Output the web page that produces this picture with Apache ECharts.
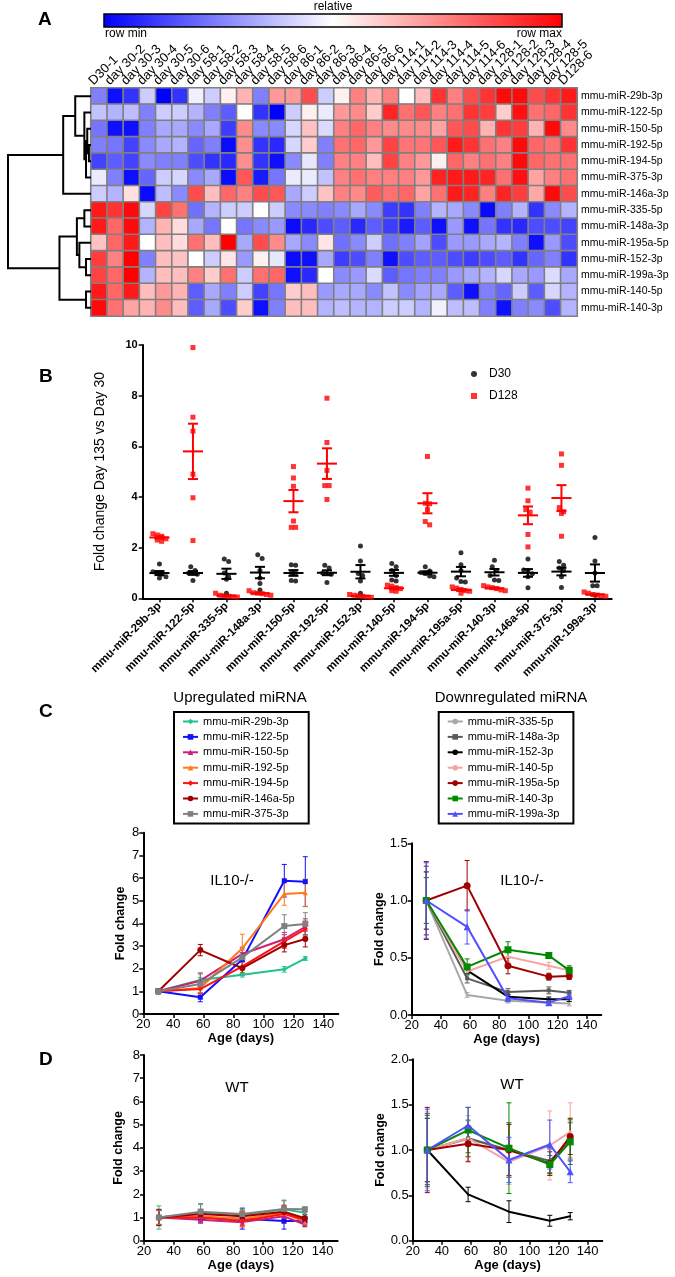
<!DOCTYPE html>
<html><head><meta charset="utf-8">
<script src="https://cdn.jsdelivr.net/npm/echarts@6/dist/echarts.min.js"></script>
<style>html,body{margin:0;padding:0;background:#fff}#c{width:675px;height:1277px}</style>
</head><body><div id="c"></div><script>
const FONT = 'Liberation Sans, Arial, Helvetica, sans-serif';

// ---------- Panel A data ----------
const heatColumns = ['D30-1','day 30-2','day 30-3','day 30-4','day 30-5','day 30-6',
  'day 58-1','day 58-2','day 58-3','day 58-4','day 58-5','day 58-6',
  'day 86-1','day 86-2','day 86-3','day 86-4','day 86-5','day 86-6',
  'day 114-1','day 114-2','day 114-3','day 114-4','day 114-5','day 114-6',
  'day 128-1','day 128-2','day 128-3','day 128-4','day 128-5','D128-6'];
const heatRows = ['mmu-miR-29b-3p','mmu-miR-122-5p','mmu-miR-150-5p','mmu-miR-192-5p','mmu-miR-194-5p',
  'mmu-miR-375-3p','mmu-miR-146a-3p','mmu-miR-335-5p','mmu-miR-148a-3p','mmu-miR-195a-5p',
  'mmu-miR-152-3p','mmu-miR-199a-3p','mmu-miR-140-5p','mmu-miR-140-3p'];
// relative level per row: 0 = row min (blue), 5 = mid (white), 10 = row max (red)
const heatValues = [
  [2.5,0.3,1,4,0,1,4.7,4,5.3,6.5,2.5,7,7,8.5,4, 5.3,7.5,6.5,7.5,5,6.3,9,7.5,8.5,9,9.8,9.8,8.5,9,9.5],
  [3.8,3.5,3.7,2.5,4,4,3.5,2.5,1.8,5,1,0,4,5.3,4.6, 7,7.3,6,9.3,7.8,8.3,7.5,7.8,9,8.8,6,9.7,7.8,8,9],
  [2.3,0.3,0.3,2.5,3.3,3.3,2.7,3.3,1.2,7.3,2.7,2.7,4.2,6.2,4.3, 7.5,8,7.5,7.3,7.3,7.3,6.8,8.3,8.5,6.5,9,8.8,6.5,9.8,7.3],
  [2.5,2.3,1.3,2.7,3.3,3.5,2,2.5,0.2,7.2,1,0.8,4.2,6,2.5, 7.8,8,7,8.7,7.7,7.7,8.3,9.5,9,7.8,7.5,9.8,8,7.8,9],
  [1.3,1.8,1.3,2.7,2.5,2.5,1.5,1,0.8,7.2,1,0.3,2.7,4.5,2.5, 7.5,7.5,6.3,8.7,7.5,7,5.3,8,7.5,7.8,7.5,9.8,8,7.8,7.8],
  [4.6,2.5,0.3,2,4,4.2,2.7,3.3,0.2,8.3,0.5,2.3,4.6,4.6,3.8, 7.5,7.8,7.5,7.5,7.5,7,9.3,9.5,9.5,9.3,7.8,9.7,6.8,7.5,7.8],
  [4,3.5,5.6,0.2,3.7,2.7,8.5,6.3,8,7.5,8.5,8.3,3.3,4,6.2, 7.5,7.3,8.2,7.8,8,6.8,7.8,9.5,9.3,7.5,9.3,8.8,6.7,9.8,8.5],
  [9.5,9,9.8,4.2,8.7,7.8,2.2,3.5,4,4,5,4,2.7,2.7,2.5, 2.7,3.3,2.7,1.2,1,2.5,3.5,3.3,2.7,0.2,2.5,3.5,1,2.7,3.5],
  [9.5,8,9.8,3.5,6.5,5.7,3.3,2.3,5,2.3,2.7,3,0.2,0.8,1.5, 1.8,0.8,1.8,1.2,0.5,1.8,0.3,3,0.3,2.3,1,0.8,1.5,1.5,1.3],
  [6.2,8,9.5,5,6.3,5.7,7.8,6.3,10,3.3,8.5,7.3,3.3,2.7,5.5, 2.2,2.7,4,2.2,2.5,3.2,1.5,3,3,3.3,3.5,2.5,0.3,3,1.5],
  [8.8,7.5,10,2.5,6.3,6.2,5,4,5.5,3,5.3,4.5,0.2,0.3,3.3, 1.2,1.5,2.5,0.3,1.5,1.8,1.8,1.5,1.2,1.5,1.8,1,2,2.5,1],
  [8.7,8,10,3.5,6.3,6.3,7.5,6,7.8,4,7.8,8,0.3,0.8,5, 2.7,3,4.3,1.8,2.3,2.5,2.5,3,3.3,3.5,4.2,3.3,3,4.3,3.3],
  [9.5,8,9.5,6.3,7,6.5,1.8,3.3,2.5,4,1.3,2.3,6,6.3,3, 3.3,3.3,2.7,3.8,2.7,3.2,3.3,1.8,0.3,2.5,2,4,1.8,4.2,3.5],
  [9.8,7.8,6.8,6.5,7.3,6.3,1.8,3.3,1.5,6,0.3,2.5,6.3,6.3,3.5, 3.7,3.5,3.5,4,4,3.5,4.7,3.7,3.7,2.5,0.3,2.5,2.7,1.5,3.5]
];
// dendrogram merges: [childA, childB, height]; leaves = row index, merge k creates node rows+k
const dendroMerges = [[3,4,0.25],[2,14,0.45],[15,5,0.6],[1,16,0.8],[0,17,1.9],[18,6,3.35],
  [7,8,0.8],[10,11,0.6],[9,21,1.4],[20,22,1.7],[12,13,0.6],[23,24,3.8],[19,25,10]];

// ---------- Panel B data ----------
const bCategories = ['mmu-miR-29b-3p','mmu-miR-122-5p','mmu-miR-335-5p','mmu-miR-148a-3p','mmu-miR-150-5p',
  'mmu-miR-192-5p','mmu-miR-152-3p','mmu-miR-140-5p','mmu-miR-194-5p','mmu-miR-195a-5p','mmu-miR-140-3p',
  'mmu-miR-146a-5p','mmu-miR-375-3p','mmu-miR-199a-3p'];
const d30Values = [
  [1.35,1.05,0.98,0.95,0.85,0.8],[1.25,1.1,1.0,1.0,0.95,0.7],[1.55,1.45,1.0,0.85,0.75,0.2],
  [1.72,1.57,1.1,0.8,0.58,0.33],[1.32,1.3,1.0,1.0,0.7,0.68],[1.3,1.2,1.0,0.98,0.95,0.62],
  [2.06,1.47,0.98,0.9,0.68,0.2],[1.37,1.25,1.1,0.9,0.72,0.68],[1.25,1.08,1.02,0.98,0.88,0.85],
  [1.8,1.32,1.1,0.8,0.66,0.64],[1.5,1.25,1.1,0.9,0.72,0.7],[1.55,1.12,1.1,0.97,0.85,0.42],
  [1.45,1.3,1.2,1.1,0.85,0.43],[2.4,1.47,1.0,0.5,0.5,0.12]];
const d128Values = [
  [2.55,2.5,2.45,2.35,2.3,2.25],[9.9,7.15,6.6,4.9,3.97,2.28],[0.2,0.12,0.1,0.08,0.06,0.05],
  [0.3,0.22,0.2,0.18,0.15,0.12],[5.2,4.75,4.42,3.05,2.8,2.8],[7.9,6.15,5.05,4.45,4.45,3.9],
  [0.15,0.12,0.1,0.08,0.05,0.04],[0.52,0.48,0.42,0.38,0.3,0.28],[5.6,3.75,3.73,3.5,3.03,2.9],
  [0.45,0.4,0.35,0.3,0.28,0.2],[0.5,0.45,0.42,0.38,0.33,0.3],[4.35,3.85,3.5,3.4,2.52,2.03],
  [5.7,5.25,3.58,3.42,3.35,2.45],[0.25,0.2,0.15,0.12,0.1,0.08]];
const bTicks = [0,2,4,6,8,10];

// ---------- Panels C / D data ----------
const ages = [30,58,86,114,128];
const ageTicks = [20,40,60,80,100,120,140];
const upNames = ['mmu-miR-29b-3p','mmu-miR-122-5p','mmu-miR-150-5p','mmu-miR-192-5p','mmu-miR-194-5p','mmu-miR-146a-5p','mmu-miR-375-3p'];
const downNames = ['mmu-miR-335-5p','mmu-miR-148a-3p','mmu-miR-152-3p','mmu-miR-140-5p','mmu-miR-195a-5p','mmu-miR-140-3p','mmu-miR-199a-3p'];
const upIL10 = [[1.0,1.5,1.73,1.97,2.45],[1.0,0.74,2.4,5.88,5.84],[1.0,1.47,2.65,3.3,3.85],[1.0,1.15,2.9,5.3,5.35],
  [1.0,1.1,2.1,3.2,3.75],[1.0,2.82,2.02,3.04,3.31],[1.0,1.32,2.5,3.88,3.97]];
const upIL10Err = [[0.1,0.1,0.1,0.12,0.08],[0.1,0.2,0.3,0.72,1.1],[0.1,0.3,0.3,0.3,0.35],[0.1,0.2,0.62,0.5,0.6],
  [0.1,0.2,0.3,0.3,0.35],[0.1,0.25,0.3,0.3,0.35],[0.12,0.5,0.4,0.5,0.5]];
const downIL10 = [[1.0,0.175,0.125,0.108,0.1],[1.0,0.32,0.2,0.215,0.195],[1.0,0.39,0.16,0.137,0.137],
  [1.0,0.38,0.51,0.43,0.39],[1.0,1.13,0.43,0.335,0.34],[1.0,0.42,0.57,0.52,0.39],[1.0,0.77,0.146,0.108,0.165]];
const downIL10Err = [[0.3,0.02,0.02,0.01,0.02],[0.3,0.04,0.03,0.03,0.02],[0.25,0.03,0.02,0.02,0.02],
  [0.2,0.03,0.04,0.03,0.03],[0.34,0.22,0.07,0.03,0.03],[0.2,0.07,0.07,0.02,0.04],[0.33,0.15,0.03,0.02,0.03]];
const upWT = [[1.0,1.2,1.1,1.35,1.2],[1.0,1.0,0.95,0.85,0.85],[1.0,0.9,0.8,1.05,0.7],[1.0,1.05,0.95,1.2,0.8],
  [1.0,1.0,0.85,1.15,0.9],[1.0,1.15,1.05,1.25,0.97],[1.0,1.25,1.15,1.37,1.35]];
const upWTErr = [[0.5,0.35,0.25,0.4,0.15],[0.3,0.2,0.45,0.35,0.15],[0.3,0.15,0.2,0.3,0.1],[0.35,0.2,0.35,0.35,0.15],
  [0.3,0.15,0.2,0.25,0.15],[0.35,0.2,0.2,0.25,0.15],[0.3,0.35,0.25,0.35,0.1]];
const downWT = [[1.0,1.12,1.0,0.87,1.12],[1.0,1.13,1.0,0.88,1.1],[1.0,0.51,0.32,0.22,0.27],[1.0,1.13,0.87,1.05,1.2],
  [1.0,1.07,1.0,0.85,1.15],[1.0,1.22,1.02,0.84,1.09],[1.0,1.27,0.89,1.06,0.76]];
const downWTErr = [[0.4,0.2,0.3,0.15,0.2],[0.38,0.2,0.3,0.13,0.2],[0.35,0.08,0.12,0.06,0.04],[0.42,0.25,0.25,0.38,0.32],
  [0.47,0.2,0.28,0.13,0.2],[0.4,0.25,0.5,0.1,0.25],[0.45,0.2,0.25,0.27,0.12]];
const upColors = ['#1fc28a','#1010ff','#cc1f7a','#ff7a1a','#ff1414','#a00000','#808080'];
const upSymbols = ['diamond','rect','triangle','triangle','diamond','circle','rect'];
const upSizes = [5,5,5,5,5,6,6];
const downColors = ['#a8a8a8','#5a5a5a','#000000','#f5a3a3','#a00000','#008a00','#5050ff'];
const downSymbols = ['circle','rect','circle','circle','circle','rect','triangle'];
const downSizes = [3,4,2,3,7,7,7];

// ---------- helpers ----------
const mean = a => a.reduce((s, v) => s + v, 0) / a.length;
const sem = a => { const m = mean(a); return Math.sqrt(a.reduce((s, v) => s + (v - m) * (v - m), 0) / (a.length - 1)) / Math.sqrt(a.length); };
function swarm(vals, center, step, tol) {
  const sorted = vals.slice().sort((a, b) => b - a);
  const out = []; let i = 0;
  while (i < sorted.length) {
    let j = i; while (j < sorted.length && sorted[i] - sorted[j] <= tol + 1e-9) j++;
    const k = j - i;
    for (let m = 0; m < k; m++) out.push([center + (m - (k - 1) / 2) * step, sorted[i + m]]);
    i = j;
  }
  return out;
}

// dendrogram geometry from merges
const nodeY = [], nodeH = [];
heatRows.forEach((_, i) => { nodeY[i] = i + 0.5; nodeH[i] = 0; });
const dendroData = dendroMerges.map(([a, b, h], k) => {
  const id = heatRows.length + k;
  nodeY[id] = (nodeY[a] + nodeY[b]) / 2; nodeH[id] = h;
  return [nodeH[a], nodeY[a], h, nodeY[b], nodeH[b]];
});

const heatData = [];
heatValues.forEach((row, r) => row.forEach((v, c) => heatData.push([c, r, v])));

// ---------- render functions ----------
function dendroRender(params, api) {
  const p1 = api.coord([api.value(0), api.value(1)]);
  const p2 = api.coord([api.value(2), api.value(1)]);
  const p3 = api.coord([api.value(2), api.value(3)]);
  const p4 = api.coord([api.value(4), api.value(3)]);
  return { type: 'polyline', shape: { points: [p1, p2, p3, p4] }, style: { stroke: '#000', lineWidth: 2, fill: null } };
}
function meanSemRender(params, api) {
  const c = api.value(0), m = api.value(1), s = api.value(2);
  const pL = api.coord([c - 0.3, m]), pR = api.coord([c + 0.3, m]);
  const top = api.coord([c, m + s]), bot = api.coord([c, m - s]);
  const cap = api.size([0.15, 0])[0];
  const st = { stroke: api.visual('color'), lineWidth: 2, fill: null };
  return { type: 'group', children: [
    { type: 'line', shape: { x1: pL[0], y1: pL[1], x2: pR[0], y2: pR[1] }, style: st },
    { type: 'line', shape: { x1: top[0], y1: top[1], x2: bot[0], y2: bot[1] }, style: st },
    { type: 'line', shape: { x1: top[0] - cap, y1: top[1], x2: top[0] + cap, y2: top[1] }, style: st },
    { type: 'line', shape: { x1: bot[0] - cap, y1: bot[1], x2: bot[0] + cap, y2: bot[1] }, style: st }
  ] };
}
function errRender(params, api) {
  const x = api.value(0), m = api.value(1), e = api.value(2);
  const hi = api.coord([x, m + e]), lo = api.coord([x, m - e]);
  const cap = 2.5;
  const st = { stroke: api.visual('color'), lineWidth: 1, fill: null };
  return { type: 'group', children: [
    { type: 'line', shape: { x1: hi[0], y1: hi[1], x2: lo[0], y2: lo[1] }, style: st },
    { type: 'line', shape: { x1: hi[0] - cap, y1: hi[1], x2: hi[0] + cap, y2: hi[1] }, style: st },
    { type: 'line', shape: { x1: lo[0] - cap, y1: lo[1], x2: lo[0] + cap, y2: lo[1] }, style: st }
  ] };
}

// ---------- axes ----------
const axisLineBlack = { show: true, lineStyle: { color: '#000', width: 2 } };
function ageAxis(gi) {
  return { type: 'value', gridIndex: gi, min: 20, max: 150, interval: 20,
    axisLine: axisLineBlack,
    axisTick: { show: true, length: 4, lineStyle: { color: '#000', width: 1.5 }, customValues: ageTicks },
    axisLabel: { color: '#000', fontSize: 13, margin: 4, customValues: ageTicks, formatter: v => (v > 140 ? '' : String(v)) },
    splitLine: { show: false },
    name: 'Age (days)', nameLocation: 'middle', nameGap: 16,
    nameTextStyle: { color: '#000', fontWeight: 'bold', fontSize: 13 } };
}
function foldAxis(gi, max, interval, dec, gap) {
  return { type: 'value', gridIndex: gi, min: 0, max: max, interval: interval,
    axisLine: axisLineBlack,
    axisTick: { show: true, length: 4, lineStyle: { color: '#000', width: 1.5 } },
    axisLabel: { color: '#000', fontSize: 13, margin: 4, formatter: v => v.toFixed(dec) },
    splitLine: { show: false },
    name: 'Fold change', nameLocation: 'middle', nameGap: gap,
    nameTextStyle: { color: '#000', fontWeight: 'bold', fontSize: 12.5 } };
}

const xAxes = [
  { type: 'category', gridIndex: 0, data: heatColumns, show: false },
  { type: 'category', gridIndex: 1, data: heatColumns, position: 'top', boundaryGap: false,
    axisLine: { show: false }, axisTick: { show: false },
    axisLabel: { interval: 0, rotate: 45, fontSize: 13, color: '#000', margin: 5 } },
  { type: 'value', gridIndex: 2, min: 0, max: 10, inverse: true, show: false },
  { type: 'category', gridIndex: 3, data: bCategories, position: 'bottom',
    axisLine: axisLineBlack,
    axisTick: { show: true, alignWithLabel: true, length: 4, lineStyle: { color: '#000', width: 1.5 } },
    axisLabel: { interval: 0, rotate: 45, fontSize: 11.5, fontWeight: 'bold', color: '#000', margin: 6 } },
  { type: 'value', gridIndex: 3, min: 0, max: bCategories.length, show: false, position: 'bottom' },
  ageAxis(4), ageAxis(5), ageAxis(6), ageAxis(7)
];
const yAxes = [
  { type: 'category', gridIndex: 0, data: heatRows, inverse: true, position: 'right',
    axisLine: { show: false }, axisTick: { show: false },
    axisLabel: { interval: 0, fontSize: 10.5, color: '#000', margin: 4 } },
  { type: 'value', gridIndex: 1, show: false },
  { type: 'value', gridIndex: 2, min: 0, max: heatRows.length, inverse: true, show: false },
  { type: 'value', gridIndex: 3, min: bTicks[0], max: bTicks[bTicks.length - 1], interval: 2,
    axisLine: axisLineBlack,
    axisTick: { show: true, length: 4, lineStyle: { color: '#000', width: 1.5 } },
    axisLabel: { color: '#000', fontSize: 11, fontWeight: 'bold', margin: 5 },
    splitLine: { show: false },
    name: 'Fold change Day 135 vs Day 30', nameLocation: 'middle', nameGap: 36,
    nameTextStyle: { color: '#000', fontSize: 14 } },
  foldAxis(4, 8, 1, 0, 16),
  foldAxis(5, 1.5, 0.5, 1, 23),
  foldAxis(6, 8, 1, 0, 19),
  foldAxis(7, 2, 0.5, 1, 23)
];

// ---------- series ----------
const series = [];
series.push({ type: 'heatmap', name: 'heat', xAxisIndex: 0, yAxisIndex: 0, data: heatData,
  itemStyle: { borderColor: '#808080', borderWidth: 1.6 }, emphasis: { disabled: true } });
series.push({ type: 'custom', name: 'dendrogram', xAxisIndex: 2, yAxisIndex: 2, data: dendroData,
  renderItem: dendroRender, encode: { x: [0, 2, 4], y: [1, 3] }, silent: true });

const d30Pts = [], d128Pts = [], d30Stats = [], d128Stats = [];
bCategories.forEach((_, i) => {
  d30Pts.push(...swarm(d30Values[i], i + 0.5, 0.13, 0.2));
  d128Pts.push(...swarm(d128Values[i], i + 0.5, 0.13, 0.2));
  d30Stats.push([i + 0.5, mean(d30Values[i]), sem(d30Values[i])]);
  d128Stats.push([i + 0.5, mean(d128Values[i]), sem(d128Values[i])]);
});
series.push({ type: 'scatter', name: 'D30', xAxisIndex: 4, yAxisIndex: 3, data: d30Pts,
  symbol: 'circle', symbolSize: 5, itemStyle: { color: '#000' } });
series.push({ type: 'scatter', name: 'D128', xAxisIndex: 4, yAxisIndex: 3, data: d128Pts,
  symbol: 'rect', symbolSize: 5, itemStyle: { color: '#ff0000' } });
series.push({ type: 'custom', name: 'D30 mean', xAxisIndex: 4, yAxisIndex: 3, data: d30Stats,
  renderItem: meanSemRender, encode: { x: 0, y: 1 }, itemStyle: { color: '#000' } });
series.push({ type: 'custom', name: 'D128 mean', xAxisIndex: 4, yAxisIndex: 3, data: d128Stats,
  renderItem: meanSemRender, encode: { x: 0, y: 1 }, itemStyle: { color: '#ff0000' } });

// xIdx / yIdx: axis indices of the target grid
function addLines(names, means, errs, colors, symbols, sizes, xIdx, yIdx) {
  names.forEach((n, k) => {
    series.push({ type: 'line', name: n, xAxisIndex: xIdx, yAxisIndex: yIdx,
      data: ages.map((a, j) => [a, means[k][j]]), symbol: symbols[k], symbolSize: sizes[k],
      showAllSymbol: true, lineStyle: { color: colors[k], width: 2 }, itemStyle: { color: colors[k] },
      emphasis: { disabled: true } });
    series.push({ type: 'custom', name: n + ' err', xAxisIndex: xIdx, yAxisIndex: yIdx,
      data: ages.map((a, j) => [a, means[k][j], errs[k][j]]), renderItem: errRender,
      encode: { x: 0, y: 1 }, itemStyle: { color: colors[k] } });
  });
}
addLines(upNames, upIL10, upIL10Err, upColors, upSymbols, upSizes, 5, 4);
addLines(downNames, downIL10, downIL10Err, downColors, downSymbols, downSizes, 6, 5);
addLines(upNames, upWT, upWTErr, upColors, upSymbols, upSizes, 7, 6);
addLines(downNames, downWT, downWTErr, downColors, downSymbols, downSizes, 8, 7);

// ---------- text ----------
function txt(text, x, y, size, opts) {
  return { type: 'text', x: x, y: y, silent: true,
    style: Object.assign({ text: text, fontSize: size, fontFamily: FONT, fill: '#000', align: 'left', verticalAlign: 'middle' }, opts || {}) };
}
const graphics = [
  { type: 'rect', shape: { x: 104, y: 14, width: 458, height: 13 }, silent: true,
    style: { fill: new echarts.graphic.LinearGradient(0, 0, 1, 0, [
      { offset: 0, color: '#0000ff' }, { offset: 0.5, color: '#ffffff' }, { offset: 1, color: '#ff0000' }]),
      stroke: '#000', lineWidth: 1.5 } },
  txt('relative', 333, 7, 12, { align: 'center' }),
  txt('row min', 105, 34, 12),
  txt('row max', 562, 34, 12, { align: 'right' }),
  txt('A', 38, 20, 19, { fontWeight: 'bold' }),
  txt('B', 39, 377, 19, { fontWeight: 'bold' }),
  txt('C', 39, 712, 19, { fontWeight: 'bold' }),
  txt('D', 39, 1060, 19, { fontWeight: 'bold' }),
  txt('Upregulated miRNA', 240, 698, 15, { align: 'center' }),
  txt('Downregulated miRNA', 511, 698, 15, { align: 'center' }),
  txt('IL10-/-', 232, 881, 15, { align: 'center' }),
  txt('IL10-/-', 522, 881, 15, { align: 'center' }),
  txt('WT', 237, 1088, 15, { align: 'center' }),
  txt('WT', 512, 1085, 15, { align: 'center' })
];

const boxLegend = (names, left) => ({
  data: names, left: left, top: 712, orient: 'vertical', selectedMode: false,
  padding: [3, 14, 3, 8], borderColor: '#000', borderWidth: 2,
  itemWidth: 15, itemHeight: 7, itemGap: 2.4,
  textStyle: { fontSize: 11, color: '#000', lineHeight: 13, fontFamily: FONT }
});

const option = {
  animation: false,
  backgroundColor: '#fff',
  textStyle: { fontFamily: FONT },
  grid: [
    { left: 91, top: 88, width: 486, height: 228 },
    { left: 91, top: 88, width: 469.8, height: 228 },
    { left: 8, top: 88, width: 83, height: 228 },
    { left: 142.7, top: 345, width: 469, height: 253.3 },
    { left: 143.3, top: 832.7, width: 195, height: 181.3 },
    { left: 411.7, top: 843.3, width: 189.6, height: 171.7 },
    { left: 144, top: 1055, width: 193.6, height: 185.7 },
    { left: 412.7, top: 1059.3, width: 189.6, height: 181.4 }
  ],
  xAxis: xAxes,
  yAxis: yAxes,
  visualMap: [{ type: 'continuous', min: 0, max: 10, show: false, seriesIndex: 0,
    inRange: { color: ['#0000ff', '#ffffff', '#ff0000'] } }],
  legend: [
    { data: [{ name: 'D30', icon: 'circle' }, { name: 'D128', icon: 'path://M0,0L10,0L10,10L0,10Z' }],
      left: 466, top: 362, orient: 'vertical', selectedMode: false,
      itemWidth: 20, itemHeight: 6, itemGap: 8,
      textStyle: { fontSize: 12, color: '#000', lineHeight: 14, fontFamily: FONT } },
    boxLegend(upNames, 174),
    boxLegend(downNames, 438.7)
  ],
  graphic: graphics,
  series: series
};

const chart = echarts.init(document.getElementById('c'), null, { renderer: 'canvas', width: 675, height: 1277 });
chart.setOption(option);
</script></body></html>
